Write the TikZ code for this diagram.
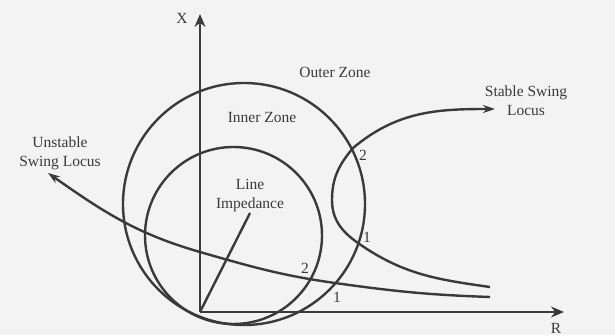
\documentclass[tikz,border=0pt]{standalone}
\usepackage{fontspec}
\setmainfont{Liberation Serif}
\usepackage{xcolor}
\usetikzlibrary{arrows.meta,positioning}
\definecolor{ink}{HTML}{3a3a3a}
\definecolor{paper}{HTML}{f3f3f3}

\begin{document}
\begin{tikzpicture}[
  x=1pt, y=1pt,
  axis/.style={line width=2.8pt, color=ink, -{Stealth[length=13pt,width=11pt]}},
  zone/.style={line width=2.4pt, color=ink},
  locus/.style={line width=2.4pt, color=ink, -{Stealth[length=12pt,width=8pt]}},
  lbl/.style={font=\fontsize{15.5}{19}\selectfont, text=ink, align=center, inner sep=0pt},
  num/.style={font=\fontsize{15.5}{19}\selectfont, text=ink, inner sep=0pt}
]
\useasboundingbox[fill=paper] (0,0) rectangle (615,335);

% axes
\coordinate (origin) at (200,23);
\coordinate (xtip)   at (200,321);
\coordinate (rtip)   at (564,23);
\draw[axis] (origin) -- (xtip);
\draw[axis] (origin) -- (rtip);
\node[lbl] (xlab) at (182,317) {X};
\node[lbl] (rlab) at (556,7) {R};

% zones
\coordinate (outerc) at (244,131);
\coordinate (innerc) at (233.5,99.5);
\draw[zone] (outerc) circle (121);
\draw[zone] (innerc) circle (88.5);
\node[lbl] (outer) at (335,263) {Outer Zone};
\node[lbl] (inner) at (262,217) {Inner Zone};

% line impedance
\coordinate (zline) at (250,122);
\draw[zone] (origin) -- (zline);
\node[lbl, above=1pt of zline] (zlab) {Line\\Impedance};

% stable swing locus
\coordinate (s0) at (490,48);
\coordinate (s1) at (358,92);
\coordinate (s2) at (332,135);
\coordinate (s3) at (353,187);
\coordinate (s4) at (495,226);
\draw[locus] (s0) to[out=172,in=-35] (s1) to[out=145,in=-90] (s2)
  to[out=90,in=230] (s3) to[out=40,in=180] (s4);
\node[lbl] (stable) at (526,234) {Stable Swing\\Locus};
\node[num] (s1n) at (367,98) {1};
\node[num] (s3n) at (363,180) {2};

% unstable swing locus
\coordinate (u0) at (490,38);
\coordinate (u1) at (335,52);
\coordinate (ux) at (200,83);
\coordinate (u4) at (48,162);
\draw[locus] (u0) to[out=178,in=-8] (u1) to[out=172,in=-16] (ux)
  to[out=164,in=-35] (u4);
\node[lbl] (unstable) at (60,182) {Unstable\\Swing Locus};
\node[num] (u2n) at (305,67) {2};
\node[num] (u1n) at (337,38) {1};
\end{tikzpicture}
\end{document}
